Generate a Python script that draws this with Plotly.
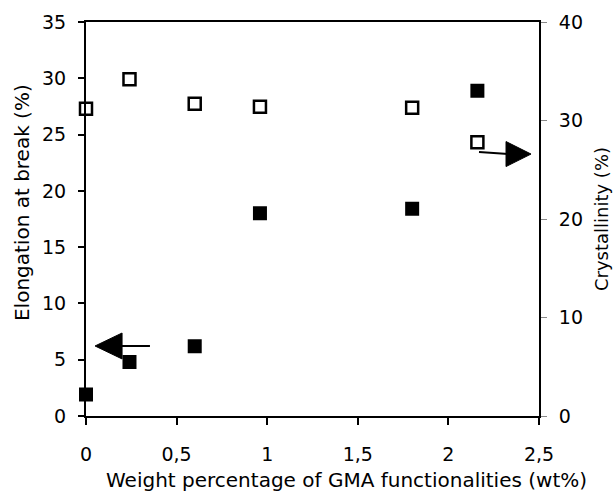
import plotly.graph_objects as go

# GMA content of each blend (wt%)
gma_wt = [0, 0.24, 0.6, 0.96, 1.8, 2.16]
# Elongation at break (%), left axis
elongation = [1.9, 4.8, 6.2, 18.0, 18.4, 28.9]
# Crystallinity (%), right axis
crystallinity = [31.2, 34.2, 31.7, 31.4, 31.3, 27.8]

FONT = "DejaVu Sans"

fig = go.Figure()

fig.add_trace(go.Scatter(
    x=gma_wt, y=elongation, mode="markers", name="Elongation at break",
    marker=dict(symbol="square", size=12, color="black",
                line=dict(color="black", width=2)),
    cliponaxis=False, yaxis="y",
))
fig.add_trace(go.Scatter(
    x=gma_wt, y=crystallinity, mode="markers", name="Crystallinity",
    marker=dict(symbol="square-open", size=12, color="black",
                line=dict(color="black", width=2.5)),
    cliponaxis=False, yaxis="y2",
))

# Arrows pointing each series to its axis (left-axis data units)
arrow_w = 2
shapes = [
    # left arrow -> elongation axis
    dict(type="line", xref="x", yref="y", x0=0.19, y0=6.22, x1=0.353, y1=6.22,
         line=dict(color="black", width=arrow_w)),
    dict(type="path", xref="x", yref="y",
         path="M 0.05,6.22 L 0.199,7.37 L 0.199,5.07 Z",
         fillcolor="black", line=dict(color="black", width=1)),
    # right arrow -> crystallinity axis
    dict(type="line", xref="x", yref="y", x0=2.169, y0=23.45, x1=2.33, y1=23.27,
         line=dict(color="black", width=arrow_w)),
    dict(type="path", xref="x", yref="y",
         path="M 2.456,23.27 L 2.318,24.38 L 2.318,22.16 Z",
         fillcolor="black", line=dict(color="black", width=1)),
]

annotations = [
    dict(text="Elongation at break (%)", xref="paper", yref="paper",
         x=-0.1413, y=0.543, textangle=-90, showarrow=False,
         xanchor="center", yanchor="middle",
         font=dict(family=FONT, size=20, color="black")),
    dict(text="Crystallinity (%)", xref="paper", yref="paper",
         x=1.137, y=0.5, textangle=-90, showarrow=False,
         xanchor="center", yanchor="middle",
         font=dict(family=FONT, size=18, color="black")),
    dict(text="Weight percentage of GMA functionalities (wt%)",
         xref="paper", yref="paper", x=0.575, y=-0.162, showarrow=False,
         xanchor="center", yanchor="middle",
         font=dict(family=FONT, size=20, color="black")),
]

fig.update_layout(
    width=613, height=492,
    margin=dict(l=86, r=74, t=22, b=76),
    paper_bgcolor="white", plot_bgcolor="white",
    showlegend=False,
    separators=", ",
    font=dict(family=FONT, size=19, color="black"),
    shapes=shapes,
    annotations=annotations,
    xaxis=dict(
        range=[0, 2.5], dtick=0.5, tick0=0,
        showgrid=False, zeroline=False,
        showline=True, linecolor="black", linewidth=2, mirror=True,
        ticks="outside", ticklen=7, tickwidth=2, tickcolor="black",
        ticklabelstandoff=13,
    ),
    yaxis=dict(
        range=[0, 35], dtick=5, tick0=0,
        showgrid=False, zeroline=False,
        showline=True, linecolor="black", linewidth=2, mirror=True,
        ticks="outside", ticklen=6, tickwidth=2, tickcolor="black",
        ticklabelstandoff=8,
    ),
    yaxis2=dict(
        range=[0, 40], dtick=10, tick0=0,
        overlaying="y", side="right",
        showgrid=False, zeroline=False,
        showline=True, linecolor="black", linewidth=2,
        ticks="outside", ticklen=6, tickwidth=1, tickcolor="#888888",
        ticklabelstandoff=8,
    ),
)

fig.write_html("out.html")
